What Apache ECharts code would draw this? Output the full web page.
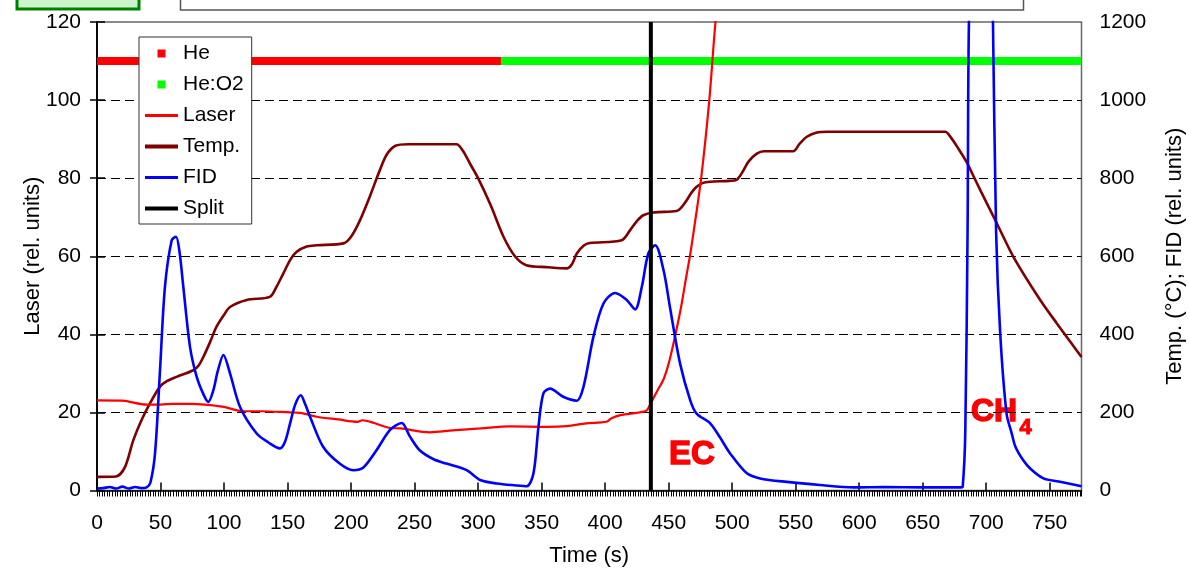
<!DOCTYPE html>
<html>
<head>
<meta charset="utf-8">
<script src="https://cdn.jsdelivr.net/npm/echarts@6/dist/echarts.min.js"></script>
<style>
  html, body { margin: 0; padding: 0; background: #fff; }
  #chart { width: 1189px; height: 570px; }
</style>
</head>
<body>
<div id="chart"></div>
<script>
// gas phases, left axis level
var heTime = [0, 318]
var heO2Time = [318, 775]
var gasLevel = 110

// split time (s)
var splitTime = 436

// laser signal, left axis (rel. units)
var laserTime = [0, 20, 39, 50, 60, 73, 85, 100, 115, 130, 152, 160, 173, 190, 205, 209, 218, 231, 239, 262, 280, 302, 325, 354, 370, 385, 401, 405, 412, 425, 430, 433, 437, 441, 446, 450, 454, 459.5, 464, 467, 470, 475.6, 482, 487, 492]
var laserValue = [23.1, 23, 22, 22, 22.2, 22.2, 22, 21.4, 20.3, 20.3, 20, 19.9, 18.9, 18.2, 17.6, 18, 17.3, 16, 15.9, 14.9, 15.4, 15.9, 16.4, 16.3, 16.5, 17.2, 17.6, 18.5, 19.3, 19.9, 20.2, 20.6, 23, 25.5, 28.5, 32.5, 38, 46.5, 55, 60.5, 67, 80, 100, 120.5, 135]

// oven temperature, right axis (°C)
var tempTime = [0, 15, 22, 28.6, 35, 41.7, 49.6, 55, 62.7, 75.8, 80, 83.7, 89, 94, 100, 104.7, 117.9, 136, 141, 146.7, 152, 157, 165, 173, 194, 200, 207, 215, 222, 228, 235, 245, 283, 288, 294, 300, 310, 320, 329, 338, 355, 370, 374, 377.7, 383, 388, 413, 419.7, 425, 430, 438, 456.4, 460, 464.3, 468, 472, 477, 482.7, 498, 503.6, 508, 513, 519.4, 525, 548, 553, 558.8, 566.7, 575, 667.7, 672, 678, 684.8, 690, 696, 708.4, 721.5, 742.5, 755.6, 775]
var tempValue = [35, 36, 60, 129, 180, 223, 266, 280, 291, 308, 320, 342, 380, 419, 450, 470, 488, 496, 520, 556, 590, 611, 625, 628, 633, 650, 692, 755, 815, 860, 883, 887, 887, 870, 835, 800, 730, 650, 600, 577, 572, 569, 580, 607, 627, 634, 641, 667, 690, 705, 712, 716, 725, 744, 763, 778, 788, 791, 793, 796, 815, 843, 863, 869, 869, 888, 906, 917, 919, 919, 905, 876, 840, 805, 765, 684, 598, 488, 428, 342]

// FID signal, right axis (rel. units)
var fidTime = [0, 5, 10, 15, 20, 25, 30, 35, 39, 42, 45.7, 49.6, 53.5, 58.8, 62.2, 65, 68, 73.2, 78.5, 84, 87.6, 91.6, 95, 99.5, 104.7, 112.6, 125.7, 135, 144, 148, 152, 156, 160.4, 164, 167.7, 178, 191, 201.8, 209.7, 220, 230.7, 239.9, 246, 254, 265, 275, 291, 301.6, 314.7, 330, 338.3, 343.6, 347.5, 351.4, 356.7, 367, 377.7, 383, 390.8, 398.7, 407.9, 417, 423.6, 428.9, 434, 439.4, 446, 451, 459, 467, 472, 482.7, 490.6, 498.4, 511.6, 522, 543, 569, 595.5, 620, 650, 674, 680, 681.5, 683.5, 685.3, 687, 696, 704.5, 705.3, 707.8, 711, 716, 720, 723, 729, 735, 745, 757, 775]
var fidValue = [5, 6, 9, 5, 10, 5, 9, 6, 8, 20, 96, 308, 522, 641, 650, 610, 520, 368, 291, 245, 227, 257, 305, 347, 300, 214, 146, 123, 108, 125, 172, 220, 244, 220, 189, 112, 69, 52, 59, 103, 155, 173, 140, 103, 80, 69, 52, 27, 18, 13, 11, 44, 163, 249, 261, 240, 230, 266, 394, 479, 506, 488, 464, 522, 607, 628, 564, 470, 325, 231, 197, 172, 135, 95, 44, 31, 22, 14, 8, 9, 8, 8, 8, 10, 147, 659, 1300, 1900, 1300, 1200, 660, 403, 197, 147, 112, 78, 55, 31, 23, 11]

function pairs(xs, ys) {
  return xs.map(function (x, i) { return [x, ys[i]] })
}

var font = 'Liberation Sans, Arial, sans-serif'
var sqIcon = 'path://M0,0M33,10M12.5,1h8v8h-8z'
var thinIcon = 'path://M0,0M33,10M0,3.5h33v3h-33z'
var thickIcon = 'path://M0,0M33,10M0,3h33v4h-33z'
var plain = function (v) { return String(v) }

var chart = echarts.init(document.getElementById('chart'))
chart.setOption({
  animation: false,
  backgroundColor: '#fff',
  textStyle: { fontFamily: font },
  grid: {
    left: 97, right: 107.5, top: 22, bottom: 79.5,
    show: true, borderColor: '#666', borderWidth: 1.5,
    outerBoundsMode: 'none'
  },
  legend: {
    orient: 'vertical',
    left: 139, top: 37,
    padding: [6, 8, 5, 6],
    itemWidth: 33, itemHeight: 10, itemGap: 10,
    backgroundColor: '#fff',
    borderColor: '#333', borderWidth: 1,
    selectedMode: false,
    itemStyle: { borderWidth: 0 },
    textStyle: { fontSize: 21, color: '#000', fontFamily: font },
    data: [
      { name: 'He', icon: sqIcon, itemStyle: { color: '#ff0000' } },
      { name: 'He:O2', icon: sqIcon, itemStyle: { color: '#00ff00' } },
      { name: 'Laser', icon: thinIcon, itemStyle: { color: '#ff0000' } },
      { name: 'Temp.', icon: thickIcon, itemStyle: { color: '#7f0000' } },
      { name: 'FID', icon: thinIcon, itemStyle: { color: '#0000ff' } },
      { name: 'Split', icon: thickIcon, itemStyle: { color: '#000' } }
    ]
  },
  xAxis: [
    {
      type: 'value', min: 0, max: 775, interval: 50, position: 'bottom',
      name: 'Time (s)', nameLocation: 'middle', nameGap: 54, nameMoveOverlap: false,
      nameTextStyle: { fontSize: 22, color: '#000', fontFamily: font },
      axisLine: { show: true, lineStyle: { color: '#000', width: 1.5 } },
      axisTick: { show: true, inside: true, length: 8, lineStyle: { color: '#000', width: 1.5 } },
      axisLabel: { margin: 22, fontSize: 21, color: '#000', fontFamily: font, showMaxLabel: false, formatter: plain },
      splitLine: { show: false }
    },
    {
      type: 'value', min: 0, max: 775, interval: 2, position: 'bottom',
      axisLine: { show: false },
      axisTick: { show: true, length: 6, lineStyle: { color: '#000', width: 1 } },
      axisLabel: { show: false },
      splitLine: { show: false }
    }
  ],
  yAxis: [
    {
      type: 'value', min: 0, max: 120, interval: 20, position: 'left',
      name: 'Laser (rel. units)', nameLocation: 'middle', nameGap: 53, nameRotate: 90, nameMoveOverlap: false,
      nameTextStyle: { fontSize: 22, color: '#000', fontFamily: font },
      axisLine: { show: true, lineStyle: { color: '#000', width: 1.5 } },
      axisTick: { show: true, length: 7, lineStyle: { color: '#000', width: 1.5 } },
      axisLabel: { margin: 16, fontSize: 21, color: '#000', fontFamily: font, formatter: plain },
      splitLine: {
        show: true, showMinLine: false, showMaxLine: false,
        lineStyle: { color: '#000', type: [9, 5], width: 1.2 }
      }
    },
    {
      type: 'value', min: 0, max: 1200, interval: 200, position: 'right',
      name: 'Temp. (°C); FID (rel. units)', nameLocation: 'middle', nameGap: 82, nameRotate: 90, nameMoveOverlap: false,
      nameTextStyle: { fontSize: 22, color: '#000', fontFamily: font },
      axisLine: { show: true, lineStyle: { color: '#000', width: 1.5 } },
      axisTick: { show: true, length: 8, lineStyle: { color: '#000', width: 1.5 } },
      axisLabel: { margin: 18, fontSize: 21, color: '#000', fontFamily: font, formatter: plain },
      splitLine: { show: false }
    }
  ],
  series: [
    {
      name: 'He', type: 'line', yAxisIndex: 0, symbol: 'none',
      data: heTime.map(function (t) { return [t, gasLevel] }),
      lineStyle: { color: '#ff0000', width: 8 }, itemStyle: { color: '#ff0000' }
    },
    {
      name: 'He:O2', type: 'line', yAxisIndex: 0, symbol: 'none',
      data: heO2Time.map(function (t) { return [t, gasLevel] }),
      lineStyle: { color: '#00ff00', width: 8 }, itemStyle: { color: '#00ff00' }
    },
    {
      name: 'Temp.', type: 'line', yAxisIndex: 1, symbol: 'none', smooth: 0.3,
      data: pairs(tempTime, tempValue),
      lineStyle: { color: '#7f0000', width: 2.6 }, itemStyle: { color: '#7f0000' }
    },
    {
      name: 'Laser', type: 'line', yAxisIndex: 0, symbol: 'none', smooth: 0.3,
      data: pairs(laserTime, laserValue),
      lineStyle: { color: '#ff0000', width: 2.2 }, itemStyle: { color: '#ff0000' }
    },
    {
      name: 'FID', type: 'line', yAxisIndex: 1, symbol: 'none', smooth: 0.3,
      data: pairs(fidTime, fidValue),
      lineStyle: { color: '#0000ff', width: 2.6 }, itemStyle: { color: '#0000ff' }
    },
    {
      name: 'Split', type: 'line', yAxisIndex: 0, symbol: 'none',
      data: [[splitTime, 0], [splitTime, 120]],
      lineStyle: { color: '#000', width: 4 }, itemStyle: { color: '#000' }
    }
  ],
  graphic: [
    { type: 'rect', shape: { x: 17, y: -25, width: 122, height: 34 },
      style: { fill: '#ccf5cc', stroke: '#008000', lineWidth: 3 } },
    { type: 'rect', shape: { x: 180.5, y: -25, width: 843, height: 35 },
      style: { fill: '#fff', stroke: '#555', lineWidth: 1.5 } },
    { type: 'text', x: 669, y: 455,
      style: { text: 'EC', fontSize: 33, fontWeight: 'bold', fontFamily: font, fill: '#ff0000',
        stroke: '#ff0000', lineWidth: 1.4, verticalAlign: 'middle' } },
    { type: 'text', x: 971, y: 411.7,
      style: { text: 'CH', fontSize: 32, fontWeight: 'bold', fontFamily: font, fill: '#ff0000',
        stroke: '#ff0000', lineWidth: 1.4, verticalAlign: 'middle' } },
    { type: 'text', x: 1019.5, y: 428,
      style: { text: '4', fontSize: 22, fontWeight: 'bold', fontFamily: font, fill: '#ff0000',
        stroke: '#ff0000', lineWidth: 1, verticalAlign: 'middle' } }
  ]
})
</script>
</body>
</html>
